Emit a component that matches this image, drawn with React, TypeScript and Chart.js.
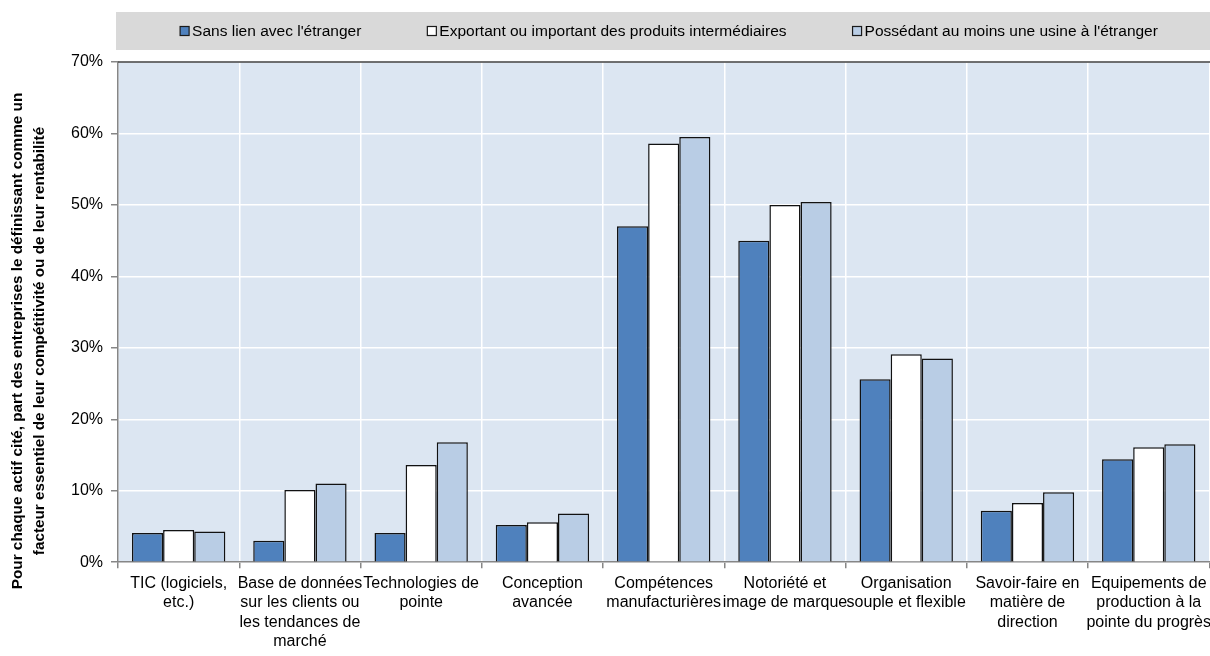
import React, { useEffect, useRef } from "react";
import { Chart, registerables } from "chart.js";

Chart.register(...registerables);

const categories: string[][] = [
  ["TIC (logiciels,", "etc.)"],
  ["Base de données", "sur les clients ou", "les tendances de", "marché"],
  ["Technologies de", "pointe"],
  ["Conception", "avancée"],
  ["Compétences", "manufacturières"],
  ["Notoriété et", "image de marque"],
  ["Organisation", "souple et flexible"],
  ["Savoir-faire en", "matière de", "direction"],
  ["Equipements de", "production à la", "pointe du progrès"],
];

const seriesNames = [
  "Sans lien avec l'étranger",
  "Exportant ou important des produits intermédiaires",
  "Possédant au moins une usine à l'étranger",
];

const sansLien = [4.1, 3.0, 4.1, 5.2, 47.0, 45.0, 25.6, 7.2, 14.4];
const exportant = [4.5, 10.1, 13.6, 5.6, 58.6, 50.0, 29.1, 8.3, 16.1];
const possedant = [4.3, 11.0, 16.8, 6.8, 59.5, 50.4, 28.5, 9.8, 16.5];

const yTitleLines = [
  "Pour chaque actif cité, part des entreprises le définissant comme un",
  "facteur essentiel de leur compétitivité ou de leur rentabilité",
];

const FONT = "'Liberation Sans', Arial, sans-serif";

export default function App() {
  const ref = useRef<HTMLCanvasElement | null>(null);

  useEffect(() => {
    if (!ref.current) return;
    const bgPlugin = {
      id: "bgPlugin",
      beforeDraw(chart: any) {
        const { ctx, chartArea } = chart;
        ctx.save();
        ctx.fillStyle = "#ffffff";
        ctx.fillRect(0, 0, chart.width, chart.height);
        ctx.fillStyle = "#DCE6F2";
        ctx.fillRect(chartArea.left, chartArea.top, chartArea.right - chartArea.left, chartArea.bottom - chartArea.top);
        ctx.fillStyle = "#D9D9D9";
        ctx.fillRect(chartArea.left - 2, 12, chart.width - chartArea.left + 2, 38);
        ctx.restore();
      },
      afterDraw(chart: any) {
        const { ctx, chartArea } = chart;
        ctx.save();
        ctx.strokeStyle = "#404040";
        ctx.lineWidth = 1.5;
        ctx.beginPath();
        ctx.moveTo(chartArea.left, chartArea.top);
        ctx.lineTo(chart.width, chartArea.top);
        ctx.stroke();
        // legend
        ctx.font = `15.5px ${FONT}`;
        ctx.textBaseline = "middle";
        const box = 9;
        const textGap = 3;
        const gap = 66;
        const widths = chart.data.datasets.map((d: any) => box + textGap + ctx.measureText(d.label).width);
        const total = widths.reduce((a: number, b: number) => a + b, 0) + gap * (widths.length - 1);
        let x = 669 - total / 2;
        const cy = 31;
        chart.data.datasets.forEach((d: any, i: number) => {
          ctx.fillStyle = d.backgroundColor;
          ctx.fillRect(x, cy - box / 2, box, box);
          ctx.strokeStyle = "#1a1a1a";
          ctx.lineWidth = 1.2;
          ctx.strokeRect(x, cy - box / 2, box, box);
          ctx.fillStyle = "#000000";
          ctx.fillText(d.label, x + box + textGap, cy + 1);
          x += widths[i] + gap;
        });
        // y title
        ctx.font = `bold 15.3px ${FONT}`;
        ctx.textAlign = "center";
        ctx.textBaseline = "middle";
        const xs = [18, 40];
        yTitleLines.forEach((line, i) => {
          ctx.save();
          ctx.translate(xs[i], 341);
          ctx.rotate(-Math.PI / 2);
          ctx.fillText(line, 0, 0);
          ctx.restore();
        });
        ctx.restore();
      },
    };

    const chart = new Chart(ref.current, {
      type: "bar",
      data: {
        labels: categories,
        datasets: [
          { label: seriesNames[0], data: sansLien, backgroundColor: "#4F81BD", borderColor: "#111111", borderWidth: 1.5 },
          { label: seriesNames[1], data: exportant, backgroundColor: "#FFFFFF", borderColor: "#111111", borderWidth: 1.5 },
          { label: seriesNames[2], data: possedant, backgroundColor: "#B9CDE5", borderColor: "#111111", borderWidth: 1.5 },
        ],
      },
      options: {
        animation: false,
        responsive: true,
        maintainAspectRatio: false,
        datasets: { bar: { categoryPercentage: 0.77, barPercentage: 1.0 } },
        layout: { padding: { left: 63, top: 62, right: 0, bottom: 2 } },
        plugins: {
          legend: { display: false },
          tooltip: { enabled: false },
        },
        scales: {
          x: {
            grid: { color: "#FFFFFF", lineWidth: 1.5, offset: true, tickColor: "#868686", tickLength: 6, drawOnChartArea: true },
            border: { color: "#868686", width: 1.5 },
            ticks: { color: "#000000", font: { family: FONT, size: 16 }, padding: 6, maxRotation: 0, autoSkip: false },
          },
          y: {
            min: 0,
            max: 70,
            grid: { color: "#FFFFFF", lineWidth: 1.5, tickColor: "#868686", tickLength: 7 },
            border: { color: "#868686", width: 1.5 },
            ticks: {
              stepSize: 10,
              color: "#000000",
              font: { family: FONT, size: 16 },
              padding: 8,
              callback: (v: any) => `${v}%`,
            },
          },
        },
      },
      plugins: [bgPlugin],
    });
    return () => chart.destroy();
  }, []);

  return (
    <div style={{ position: "fixed", left: 0, top: 0, width: 1210, height: 656, overflow: "hidden", background: "#fff" }}>
      <div style={{ position: "relative", width: 1217, height: 659 }}>
        <canvas ref={ref} />
      </div>
    </div>
  );
}
